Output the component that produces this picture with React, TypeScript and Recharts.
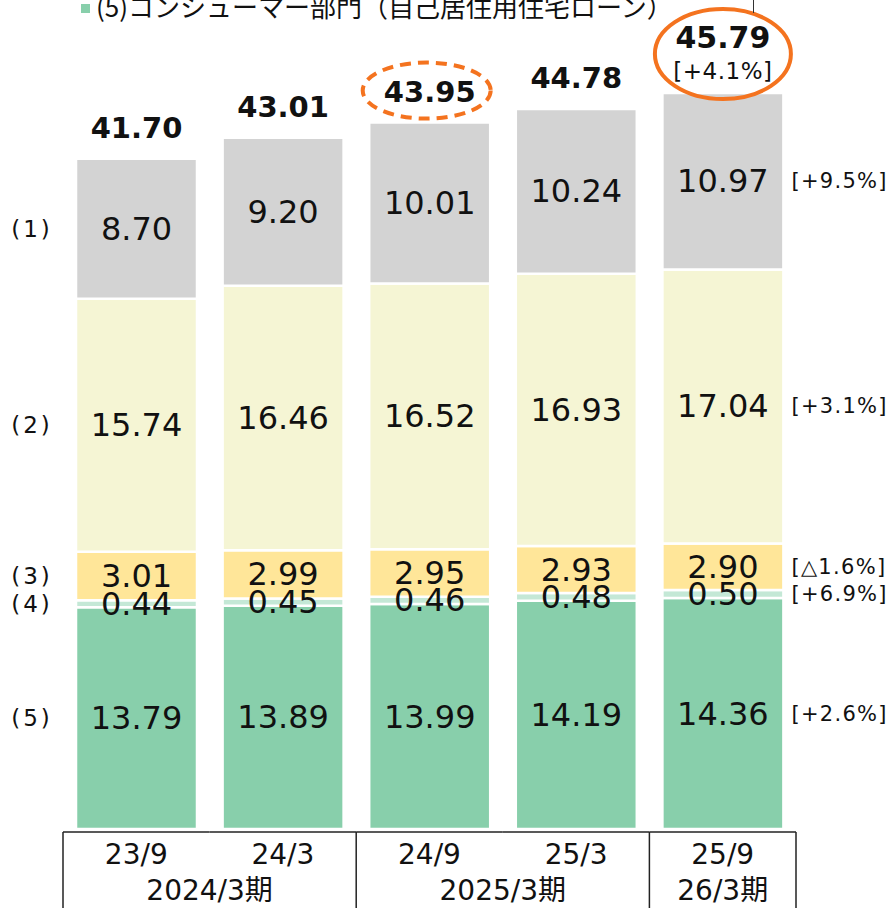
import { BarChart, Bar, XAxis, YAxis, LabelList, Legend } from "recharts"

const periods = ["23/9", "24/3", "24/9", "25/3", "25/9"]
const fiscalYears = ["2024/3期", "2025/3期", "26/3期"]
const fiscalGroup = [0, 0, 1, 1, 2]

const seg1 = [8.7, 9.2, 10.01, 10.24, 10.97]
const seg2 = [15.74, 16.46, 16.52, 16.93, 17.04]
const seg3 = [3.01, 2.99, 2.95, 2.93, 2.9]
const seg4 = [0.44, 0.45, 0.46, 0.48, 0.5]
const seg5 = [13.79, 13.89, 13.99, 14.19, 14.36]
const totals = [41.7, 43.01, 43.95, 44.78, 45.79]
const totalGrowth = "[+4.1%]"

const segTags = ["(1)", "(2)", "(3)", "(4)", "(5)"]
const segGrowth = ["[+9.5%]", "[+3.1%]", "[△1.6%]", "[+6.9%]", "[+2.6%]"]
const legendText = "(5)コンシューマー部門（自己居住用住宅ローン）"

const data = periods.map((p, i) => ({
  period: p,
  s1: seg1[i],
  s2: seg2[i],
  s3: seg3[i],
  s4: seg4[i],
  s5: seg5[i],
}))

// bottom to top
const series = [
  { key: "s5", color: "#88cfab", idx: 4 },
  { key: "s4", color: "#c4e8d6", idx: 3 },
  { key: "s3", color: "#ffe699", idx: 2 },
  { key: "s2", color: "#f5f5d4", idx: 1 },
  { key: "s1", color: "#d3d3d3", idx: 0 },
]

const W = 894
const H = 908
const M = { top: 25, right: 98, bottom: 0, left: 63 }
const AXIS_H = 79
const BAND = (W - M.left - M.right) / periods.length
const FONT = "'DejaVu Sans', 'Noto Sans CJK JP', sans-serif"
const ORANGE = "#f4731f"
const INK = "#111"

function SegmentValue(props: any) {
  const { x, y, width, height, value } = props
  return (
    <text x={x + width / 2} y={y + height / 2} textAnchor="middle" dominantBaseline="central" fontSize={32} fontFamily={FONT} fill={INK}>
      {Number(value).toFixed(2)}
    </text>
  )
}

const sideTag = (segIdx: number) => (props: any) => {
  const { x, y, width, height, index } = props
  const cy = y + height / 2
  if (index === 0) {
    return (
      <text x={32} y={cy} textAnchor="middle" dominantBaseline="central" fontSize={23} fontFamily={FONT} fill={INK} letterSpacing={3}>
        {segTags[segIdx]}
      </text>
    )
  }
  if (index === periods.length - 1) {
    return (
      <text x={x + width + 8} y={cy} textAnchor="start" dominantBaseline="central" fontSize={21} fontFamily={FONT} fill={INK} letterSpacing={1.3}>
        {segGrowth[segIdx]}
      </text>
    )
  }
  return null
}

function TotalLabel(props: any) {
  const { x, y, width, index } = props
  const cx = x + width / 2
  const label = totals[index].toFixed(2)
  if (index === periods.length - 1) {
    return (
      <g>
        <ellipse cx={cx} cy={y - 39} rx={68} ry={45} fill="none" stroke={ORANGE} strokeWidth={4} />
        <text x={cx} y={y - 56} textAnchor="middle" dominantBaseline="central" fontSize={30} fontWeight="bold" fontFamily={FONT} fill={INK}>
          {label}
        </text>
        <text x={cx} y={y - 22} textAnchor="middle" dominantBaseline="central" fontSize={23} fontFamily={FONT} fill={INK} letterSpacing={0.5}>
          {totalGrowth}
        </text>
      </g>
    )
  }
  return (
    <g>
      {index === 2 && (
        <ellipse cx={cx - 3} cy={y - 32} rx={64} ry={28} fill="none" stroke={ORANGE} strokeWidth={4} strokeDasharray="11 7" />
      )}
      <text x={cx} y={y - 31} textAnchor="middle" dominantBaseline="central" fontSize={29} fontWeight="bold" fontFamily={FONT} fill={INK}>
        {label}
      </text>
    </g>
  )
}

function TableTick(props: any) {
  const { x, y, payload, index } = props
  const half = BAND / 2
  const top = y + 3
  const bottom = top + AXIS_H
  const g = fiscalGroup[index]
  const first = fiscalGroup.indexOf(g)
  const last = fiscalGroup.lastIndexOf(g)
  return (
    <g>
      <line x1={x - half} x2={x + half} y1={top} y2={top} stroke="#222" strokeWidth={1.5} />
      {index === first && <line x1={x - half} x2={x - half} y1={top} y2={bottom} stroke="#222" strokeWidth={1.5} />}
      {index === periods.length - 1 && <line x1={x + half} x2={x + half} y1={top} y2={bottom} stroke="#222" strokeWidth={1.5} />}
      <text x={x} y={top + 22} textAnchor="middle" dominantBaseline="central" fontSize={28} fontFamily={FONT} fill={INK}>
        {payload.value}
      </text>
      {index === first && (
        <text x={x + ((last - first) * BAND) / 2} y={top + 58} textAnchor="middle" dominantBaseline="central" fontSize={28} fontFamily={FONT} fill={INK}>
          {fiscalYears[g]}
        </text>
      )}
    </g>
  )
}

function TopLegend() {
  return (
    <div style={{ position: "relative", width: 754, height: 30, fontFamily: FONT }}>
      <div style={{ position: "absolute", left: 81, top: 4, width: 9, height: 9, background: "#88cfab" }} />
      <div style={{ position: "absolute", left: 96, top: -13, fontSize: 26, whiteSpace: "nowrap", color: INK, fontFamily: "'Noto Sans CJK JP', sans-serif" }}>
        {legendText}
      </div>
      <div style={{ position: "absolute", left: 753, top: 0, width: 1, height: 13, background: "#333" }} />
    </div>
  )
}

export default function App() {
  return (
    <div style={{ position: "absolute", left: 0, top: 0, width: W, height: H, background: "#fff", overflow: "hidden" }}>
      <BarChart width={W} height={H} data={data} margin={M} barSize={121}>
        <XAxis dataKey="period" axisLine={false} tickLine={false} tickSize={0} tickMargin={0} height={AXIS_H} interval={0} tick={TableTick} />
        <YAxis hide domain={[0, 50]} />
        <Legend
          layout="horizontal"
          verticalAlign="middle"
          align="center"
          wrapperStyle={{ top: 0, left: 0, width: 754 }}
          content={() => <TopLegend />}
        />
        {series.map((s) => (
          <Bar key={s.key} dataKey={s.key} stackId="a" fill={s.color} stroke="#fff" strokeWidth={2.5} isAnimationActive={false}>
            <LabelList dataKey={s.key} content={SegmentValue} />
            <LabelList dataKey={s.key} content={sideTag(s.idx)} />
            {s.key === "s1" && <LabelList dataKey={s.key} content={TotalLabel} />}
          </Bar>
        ))}
      </BarChart>
    </div>
  )
}
